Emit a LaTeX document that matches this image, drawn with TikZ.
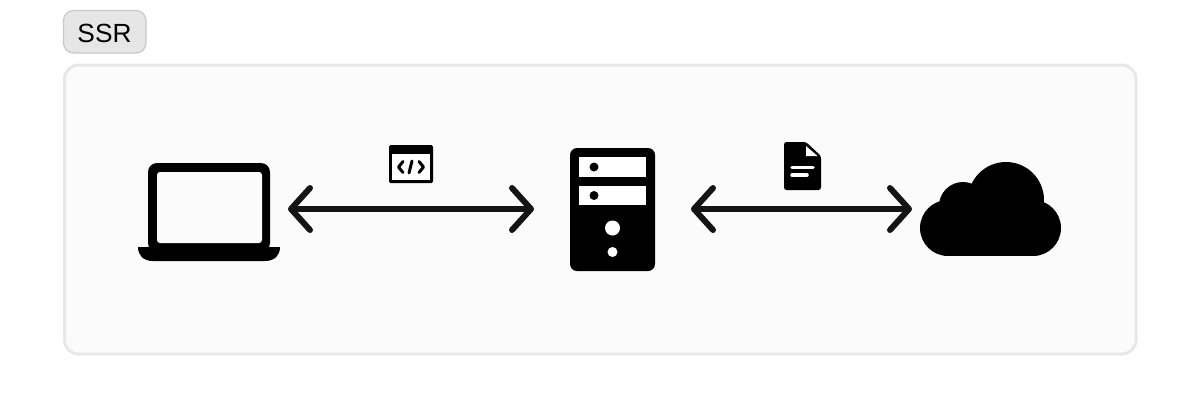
\documentclass[tikz,border=0pt]{standalone}
\usepackage{fontspec}
\setmainfont{Liberation Sans}
\usetikzlibrary{arrows.meta}
\definecolor{panelfill}{HTML}{FBFBFB}
\definecolor{panelline}{HTML}{E8E8E8}
\definecolor{tagfill}{HTML}{E6E6E6}
\definecolor{tagline}{HTML}{C9C9C9}
\definecolor{wire}{HTML}{141414}
\tikzset{
  x=.75pt,y=-.75pt,
  port/.style={inner sep=0pt,outer sep=0pt,minimum height=40*.75pt,minimum width=#1*.75pt},
  link/.style={draw=wire,line width=6*.75pt,line cap=round,
    {Straight Barb[round,length=19*.75pt,width=42*.75pt]}-{Straight Barb[round,length=19*.75pt,width=42*.75pt]}},
  ink/.style={fill=black,draw=none},
  paper/.style={fill=panelfill,draw=none},
  hole/.style={fill=white,draw=none},
  tagbox/.style={fill=tagfill,draw=tagline,line width=1.2*.75pt,rounded corners=10*.75pt},
  panelbox/.style={fill=panelfill,draw=panelline,line width=3*.75pt,rounded corners=14*.75pt}
}
\begin{document}
\begin{tikzpicture}
\useasboundingbox (0,0) rectangle (1200,419);
\fill[white] (0,0) rectangle (1200,419);
% tag and panel
\draw[tagbox] (63.5,10.5) rectangle (146,53);
\node[inner sep=0pt,font=\fontsize{19.7pt}{23pt}\selectfont,text=black] (ssr) at (104.5,33.5) {SSR};
\draw[panelbox] (64.5,65) rectangle (1136,354);
% invisible ports
\node[port=158] (laptop) at (209,209) {};
\node[port=157] (server) at (612.5,209) {};
\node[port=156] (cloud) at (990,209) {};
% connectors
\draw[link] (laptop.east) -- (server.west);
\draw[link] (server.east) -- (cloud.west);
% laptop
\fill[ink,rounded corners=9*.75pt] (148,163) rectangle (270,252);
\fill[paper,rounded corners=3*.75pt] (157,172) rectangle (262,243);
\fill[ink] (138,247) -- (280,247) .. controls (280,255) and (275,261) .. (265,261) -- (153,261) .. controls (143,261) and (138,255) .. (138,247) -- cycle;
% window icon
\fill[ink,rounded corners=1.5*.75pt] (389,145) rectangle (433,183);
\fill[hole] (392,154) rectangle (430,180);
\draw[black,line width=3*.75pt,line cap=round,line join=round] (403,161.5) -- (398.5,167) -- (403,172.5);
\draw[black,line width=3*.75pt,line cap=round] (412,161) -- (409,173);
\draw[black,line width=3*.75pt,line cap=round,line join=round] (419,161.5) -- (423.5,167) -- (419,172.5);
% server
\fill[ink,rounded corners=7*.75pt] (570,148) rectangle (655,271);
\fill[hole] (579,157) rectangle (646,177);
\fill[hole] (579,186) rectangle (646,205);
\fill[ink] (594,167) circle[radius=4.5];
\fill[ink] (594,195.5) circle[radius=4.5];
\fill[hole] (612.5,228) circle[radius=7.5];
\fill[hole] (612.5,252) circle[radius=5];
% document
\fill[ink,rounded corners=2.5*.75pt] (784,142) -- (806,142) -- (821,156) -- (821,190) -- (784,190) -- cycle;
\fill[hole] (806,146) -- (806,156) -- (817.5,156) -- cycle;
\draw[white,line width=3.5*.75pt,line cap=round] (792,167.5) -- (813,167.5);
\draw[white,line width=3.5*.75pt,line cap=round] (792,175) -- (807,175);
% cloud
\fill[ink] (1006,200) circle[radius=38];
\fill[ink] (963,206) circle[radius=24];
\fill[ink] (948,228) circle[radius=28];
\fill[ink] (1033,228) circle[radius=28];
\fill[ink] (948,205) rectangle (1033,256);
\end{tikzpicture}
\end{document}
